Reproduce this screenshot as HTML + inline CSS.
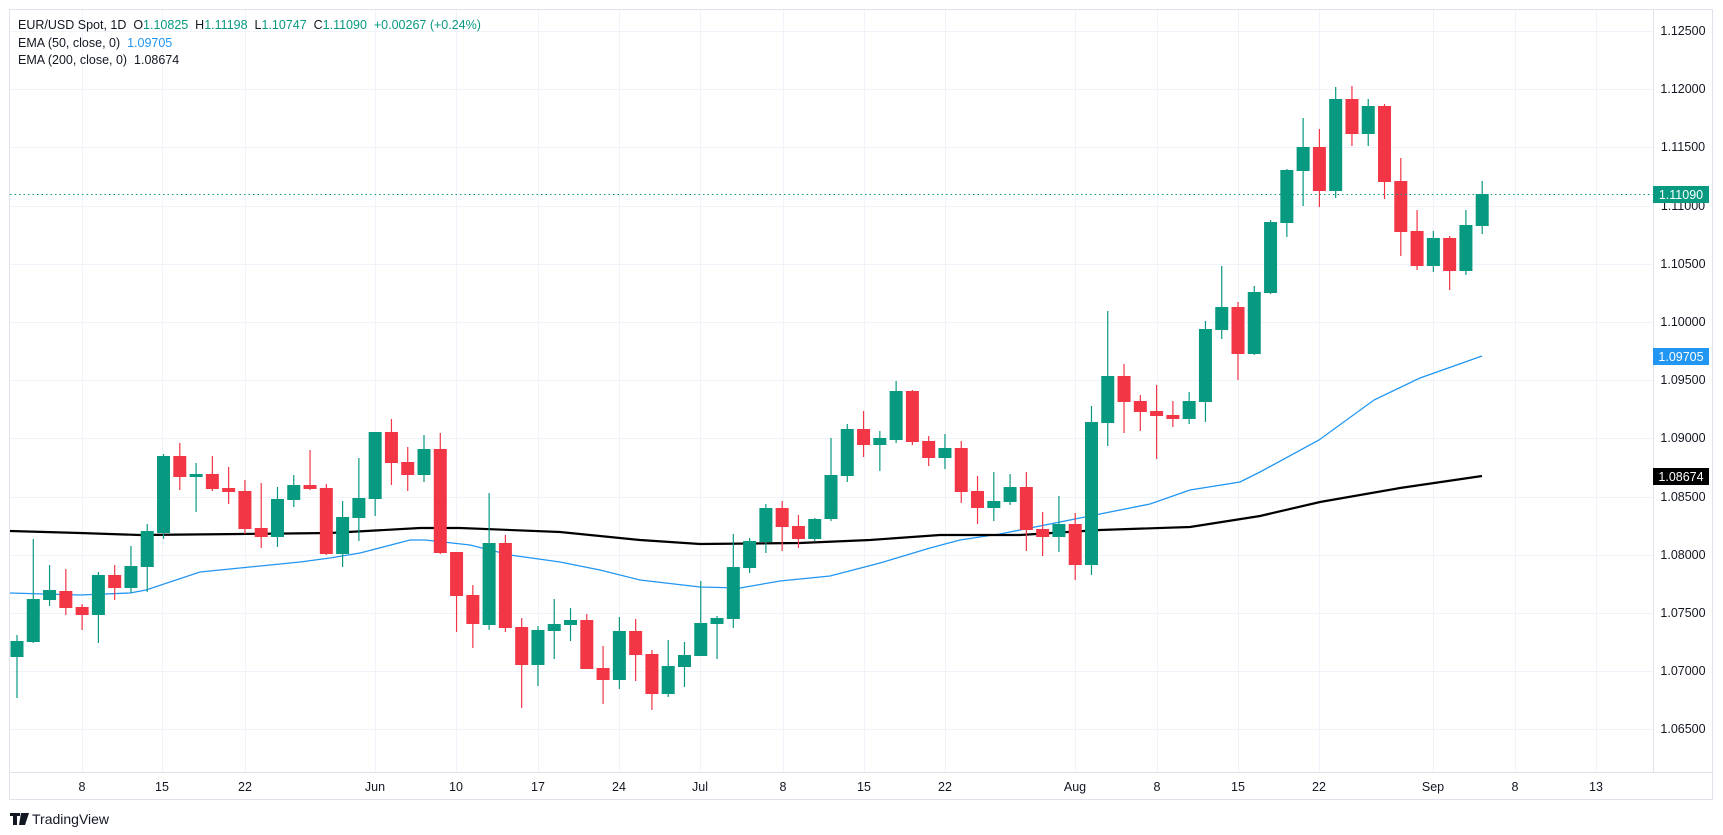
<!DOCTYPE html>
<html><head><meta charset="utf-8"><style>
html,body{margin:0;padding:0;background:#fff;}
svg{display:block;font-family:"Liberation Sans",sans-serif;}
svg text{white-space:pre;}
</style></head><body>
<svg id="c" width="1723" height="835" xmlns="http://www.w3.org/2000/svg" xml:space="preserve">
<rect x="0" y="0" width="1723" height="835" fill="#fff"/>
<rect x="9.5" y="9.5" width="1703" height="790" fill="none" stroke="#e0e3eb" stroke-width="1"/>
<line x1="10" y1="772.5" x2="1712" y2="772.5" stroke="#e0e3eb"/>
<line x1="1653.5" y1="10" x2="1653.5" y2="772" stroke="#e0e3eb"/>
<g id="grid" stroke="#f0f3fa" stroke-width="1"></g>
<g id="ema"></g>
<g id="candles"></g>
<line x1="10" y1="194.5" x2="1653" y2="194.5" stroke="#089981" stroke-width="1" stroke-dasharray="1.5,3"/>
<g font-size="12.5" fill="#131722" text-anchor="middle">
<text x="1683" y="35">1.12500</text>
<text x="1683" y="93">1.12000</text>
<text x="1683" y="151">1.11500</text>
<text x="1683" y="210">1.11000</text>
<text x="1683" y="268">1.10500</text>
<text x="1683" y="326">1.10000</text>
<text x="1683" y="384">1.09500</text>
<text x="1683" y="442">1.09000</text>
<text x="1683" y="501">1.08500</text>
<text x="1683" y="559">1.08000</text>
<text x="1683" y="617">1.07500</text>
<text x="1683" y="675">1.07000</text>
<text x="1683" y="733">1.06500</text>
</g>
<rect x="1653" y="186" width="56" height="17" fill="#089981"/>
<text x="1681" y="199" font-size="12.5" fill="#fff" text-anchor="middle">1.11090</text>
<rect x="1653" y="348" width="56" height="17" fill="#2196f3"/>
<text x="1681" y="361" font-size="12.5" fill="#fff" text-anchor="middle">1.09705</text>
<rect x="1653" y="468" width="56" height="17" fill="#000"/>
<text x="1681" y="481" font-size="12.5" fill="#fff" text-anchor="middle">1.08674</text>
<g font-size="12.5" fill="#131722" text-anchor="middle">
<text x="82" y="791">8</text><text x="162" y="791">15</text><text x="245" y="791">22</text>
<text x="375" y="791">Jun</text><text x="456" y="791">10</text><text x="538" y="791">17</text>
<text x="619" y="791">24</text><text x="700" y="791">Jul</text><text x="783" y="791">8</text>
<text x="864" y="791">15</text><text x="945" y="791">22</text><text x="1075" y="791">Aug</text>
<text x="1157" y="791">8</text><text x="1238" y="791">15</text><text x="1319" y="791">22</text>
<text x="1433" y="791">Sep</text><text x="1515" y="791">8</text><text x="1596" y="791">13</text>
</g>
<g font-size="12.5" fill="#131722">
<text x="18" y="29">EUR/USD Spot, 1D  O<tspan fill="#089981">1.10825</tspan>  H<tspan fill="#089981">1.11198</tspan>  L<tspan fill="#089981">1.10747</tspan>  C<tspan fill="#089981">1.11090</tspan>  <tspan fill="#089981">+0.00267 (+0.24%)</tspan></text>
<text x="18" y="47">EMA (50, close, 0)  <tspan fill="#2196f3">1.09705</tspan></text>
<text x="18" y="64">EMA (200, close, 0)  1.08674</text>
</g>
<g>
<path d="M10 813h10v3h-3v9h-4v-9h-3z M21 813h4l-2 12h-4z M25 813h4l-4 12h-3z" fill="#131722"/>
<text x="32" y="824" font-size="14" fill="#131722">TradingView</text>
</g>
</svg>
<script>
var NS="http://www.w3.org/2000/svg";
function el(t,a,p){var e=document.createElementNS(NS,t);for(var k in a)e.setAttribute(k,a[k]);p.appendChild(e);return e;}
var g=document.getElementById("grid");
[31,89,147,206,264,322,380,438,497,555,613,671,729].forEach(function(y){el("line",{x1:10,x2:1653,y1:y+.5,y2:y+.5},g);});
[82,162,245,375,456,538,619,700,783,864,945,1075,1157,1238,1319,1433,1515,1596].forEach(function(x){el("line",{x1:x+.5,x2:x+.5,y1:10,y2:772},g);});
var d=[[657,641,635,698],[642,599,539,643],[600,590,565,606],[591,608,569,615],[607,615,604,630],[615,575,572,643],[575,588,565,600],[588,566,546,593],[567,531,524,592],[533,456,454,539],
[456,477,443,490],[477,474,463,512],[474,489,456,491],[488,492,467,504],[491,529,480,534],[528,537,483,548],[537,499,487,547],[500,485,475,507],[485,489,450,490],[488,554,484,555],
[554,517,501,567],[518,498,458,541],[499,432,432,516],[432,463,419,485],[462,475,447,491],[475,449,435,482],[449,553,433,554],[552,596,552,632],[595,624,585,648],[625,543,493,630],
[543,628,535,632],[627,665,618,708],[665,630,626,686],[631,624,599,659],[625,620,608,641],[620,669,614,669],[668,680,646,704],[680,631,617,689],[631,655,619,681],[654,694,650,710],
[694,666,640,697],[667,655,642,687],[656,623,581,656],[624,618,616,659],[619,567,534,628],[568,541,538,573],[542,508,504,553],[508,527,501,551],[526,539,515,548],[539,519,518,541],
[519,475,438,521],[476,429,424,482],[429,445,411,457],[445,438,431,471],[440,391,381,443],[391,442,390,445],[441,458,436,466],[458,448,434,469],[448,492,441,503],[491,508,476,524],
[508,501,472,521],[502,487,474,505],[487,530,472,551],[529,537,512,556],[537,524,496,552],[524,565,513,580],[565,422,406,575],[423,376,311,446],[376,402,364,433],[401,412,395,431],
[411,416,385,459],[415,419,401,427],[419,401,392,424],[402,329,321,422],[330,307,266,339],[307,354,302,380],[354,292,286,355],[293,222,220,294],[223,170,169,237],[171,147,118,206],
[147,191,129,207],[191,99,87,198],[99,134,86,146],[134,106,99,146],[106,182,104,199],[181,232,158,256],[231,266,210,270],[266,238,231,272],[238,271,236,290],[271,225,210,275],[226,194,181,234]];
var cg=document.getElementById("candles");
d.forEach(function(c,i){var x=17+i*16.28;var up=c[1]<c[0];var col=up?"#089981":"#f23645";
el("line",{x1:x,x2:x,y1:c[2],y2:c[3],stroke:col,"stroke-width":1.2},cg);
var t=Math.min(c[0],c[1]),b=Math.max(c[0],c[1]);if(b-t<2)b=t+2;
el("rect",{x:x-6.5,y:t,width:13,height:b-t,fill:col},cg);});
var eg=document.getElementById("ema");
var e50=[[10,593],[80,595],[130,593],[146,590],[200,572],[240,568],[300,562],[330,558],[360,553],[410,540],[425,540],[470,545],[510,555],[560,562],[600,570],[640,580],[700,587],[740,588],[780,581],[830,576],[880,563],[930,548],[960,540],[1000,534],[1080,518],[1150,504],[1190,490],[1240,482],[1260,472],[1319,440],[1374,400],[1420,378],[1482,356]];
var e200=[[10,531],[80,533],[140,535],[240,534],[330,533],[420,528],[460,528],[560,532],[640,540],[700,544],[800,543],[870,540],[940,535],[1020,535],[1100,530],[1190,527],[1260,516],[1320,502],[1400,488],[1482,476]];
el("polyline",{points:e50.join(" "),fill:"none",stroke:"#2196f3","stroke-width":1.3},eg);
el("polyline",{points:e200.join(" "),fill:"none",stroke:"#000","stroke-width":2.2},eg);
</script>
</body></html>
